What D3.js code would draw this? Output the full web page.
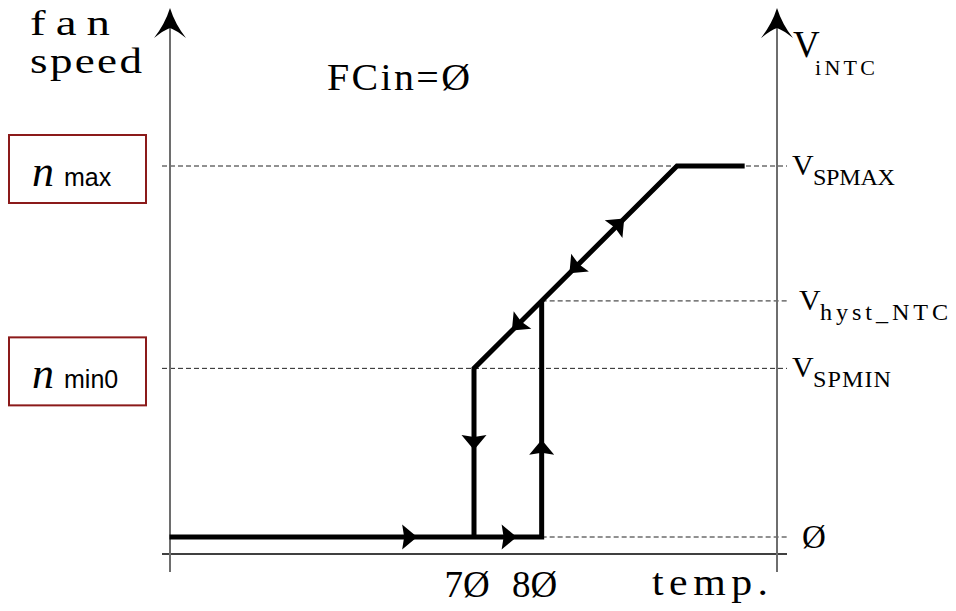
<!DOCTYPE html>
<html>
<head>
<meta charset="utf-8">
<script src="https://cdn.jsdelivr.net/npm/d3@7"></script>
<style>
  html, body { margin: 0; padding: 0; background: #fff; }
  svg { display: block; }
  .serif { font-family: "Liberation Serif", "DejaVu Serif", serif; fill: #000; }
  .sans { font-family: "Liberation Sans", Arial, sans-serif; fill: #000; }
</style>
</head>
<body>
<div id="chart"></div>
<script>
'use strict'

// thick characteristic, temperature / voltage
const riseTemp = [25, 80, 80];
const riseVolt = [0, 0, 3.5];
const fallTemp = [70, 70, 100, 110];
const fallVolt = [0, 2.5, 5.5, 5.5];

// direction arrows on the curve (tip position + heading in data units)
const arrowTemp = [61.6, 76.3, 70, 80, 92.2, 84.1, 75.6];
const arrowVolt = [0, 0, 1.29, 1.44, 4.72, 3.91, 3.06];
const arrowDT = [1, 1, 0, 0, 1, -1, -1];
const arrowDV = [0, 0, -1, 1, 0.1, -0.1, -0.1];

// voltage levels on the right axis
const levelVolt = [5.5, 3.5, 2.5, 0];
const levelSub = ["SPMAX", "hyst_NTC", "SPMIN", ""];
const levelFrom = [null, 80, null, 80];   // null = dashed line starts at left axis

// fan speed boxes on the left
const speedVolt = [5.5, 2.5];
const speedSub = ["max", "min0"];

// temperature tick labels
const tickTemp = [70, 80];
const tickText = ["7Ø", "8Ø"];

const W = 956, H = 611;
const axisL = 170, axisR = 777, axisTop = 8, axisBot = 572;
const frameL = 162, frameR = 787, baseY = 554;

const svg = d3.select("#chart")
    .append("svg")
    .attr("width", W)
    .attr("height", H);

const xScale = d3.scaleLinear().domain([70, 100]).range([474, 677]);
const yScale = d3.scaleLinear().domain([0, 5.5]).range([537, 166]);

// serif text, a bit wider than Times to look like the original
function stext(x, y, size, str, len, sx) {
    sx = sx || 1;
    const t = svg.append("text").attr("class", "serif")
        .attr("transform", `translate(${x}, ${y}) scale(${sx}, 1)`)
        .attr("font-size", size)
        .text(str);
    if (len) t.attr("textLength", len / sx).attr("lengthAdjust", "spacing");
    return t;
}

// dashed level lines
levelVolt.forEach((v, i) => {
    svg.append("line")
        .attr("x1", levelFrom[i] == null ? frameL : xScale(levelFrom[i]))
        .attr("x2", frameR)
        .attr("y1", yScale(v))
        .attr("y2", yScale(v))
        .attr("stroke", "#222")
        .attr("stroke-width", 1)
        .attr("stroke-dasharray", "5,3");
});

// bottom base line
svg.append("line")
    .attr("x1", frameL).attr("x2", frameR)
    .attr("y1", baseY).attr("y2", baseY)
    .attr("stroke", "#000")
    .attr("stroke-width", 1.5);

// vertical axes with arrow heads
const axisHead = "M0,0 Q-5,16 -16,30 Q-6,22 0,20 Q6,22 16,30 Q5,16 0,0 Z";
[axisL, axisR].forEach(x => {
    svg.append("line")
        .attr("x1", x).attr("x2", x)
        .attr("y1", axisTop + 10).attr("y2", axisBot)
        .attr("stroke", "#6e6e6e")
        .attr("stroke-width", 2);
    svg.append("path")
        .attr("d", axisHead)
        .attr("transform", `translate(${x}, ${axisTop})`)
        .attr("fill", "#000");
});

// characteristic
const line = d3.line()
    .x(d => xScale(d[0]))
    .y(d => yScale(d[1]));

[[riseTemp, riseVolt], [fallTemp, fallVolt]].forEach(([t, v]) => {
    svg.append("path")
        .datum(d3.zip(t, v))
        .attr("d", line)
        .attr("fill", "none")
        .attr("stroke", "#000")
        .attr("stroke-width", 5)
        .attr("stroke-linejoin", "miter");
});

// arrow heads on the curve
const head = "M0,0 L-15,-12.5 L-13,0 L-15,12.5 Z";
svg.selectAll(".dir")
    .data(d3.range(arrowTemp.length))
    .enter()
    .append("path")
    .attr("class", "dir")
    .attr("d", head)
    .attr("fill", "#000")
    .attr("transform", i => {
        const x = xScale(arrowTemp[i]), y = yScale(arrowVolt[i]);
        const x2 = xScale(arrowTemp[i] + arrowDT[i]), y2 = yScale(arrowVolt[i] + arrowDV[i]);
        const a = Math.atan2(y2 - y, x2 - x) * 180 / Math.PI;
        return `translate(${x}, ${y}) rotate(${a})`;
    });

// left axis title
stext(30, 35, 36, "fan", 80, 1.3);
stext(30, 73, 36, "speed", 112, 1.25);

stext(327, 90, 38, "FCin=Ø", 143, 1.05);

// right axis title
stext(793, 57, 37, "V");
stext(815, 75, 20, "iNTC", 60, 1.1);

// level labels
const subLen = { "SPMAX": 82, "hyst_NTC": 128, "SPMIN": 78 };
levelVolt.forEach((v, i) => {
    const y = yScale(v);
    if (levelSub[i] === "") {
        stext(802, y + 11, 33, "Ø");
        return;
    }
    const vx = levelSub[i] === "hyst_NTC" ? 799 : 792;
    stext(vx, y + 9, 30, "V");
    stext(vx + 21, y + 19, 23, levelSub[i], subLen[levelSub[i]], 1.05);
});

// fan speed boxes
speedVolt.forEach((v, i) => {
    const y = yScale(v);
    svg.append("rect")
        .attr("x", 9).attr("y", y - 31)
        .attr("width", 137).attr("height", 68)
        .attr("fill", "#fff")
        .attr("stroke", "#8b1a1a")
        .attr("stroke-width", 2);
    svg.append("text").attr("class", "serif")
        .attr("x", 32).attr("y", y + 20)
        .attr("font-size", 44)
        .attr("font-style", "italic")
        .text("n");
    svg.append("text").attr("class", "sans")
        .attr("x", 64).attr("y", y + 20)
        .attr("font-size", 25)
        .text(speedSub[i]);
});

// temperature labels
tickTemp.forEach((t, i) => {
    svg.append("text").attr("class", "serif")
        .attr("x", xScale(t) - 7).attr("y", 597)
        .attr("font-size", 37)
        .attr("text-anchor", "middle")
        .text(tickText[i]);
});

stext(652, 595, 38, "temp.", 116, 1.1);
</script>
</body>
</html>
